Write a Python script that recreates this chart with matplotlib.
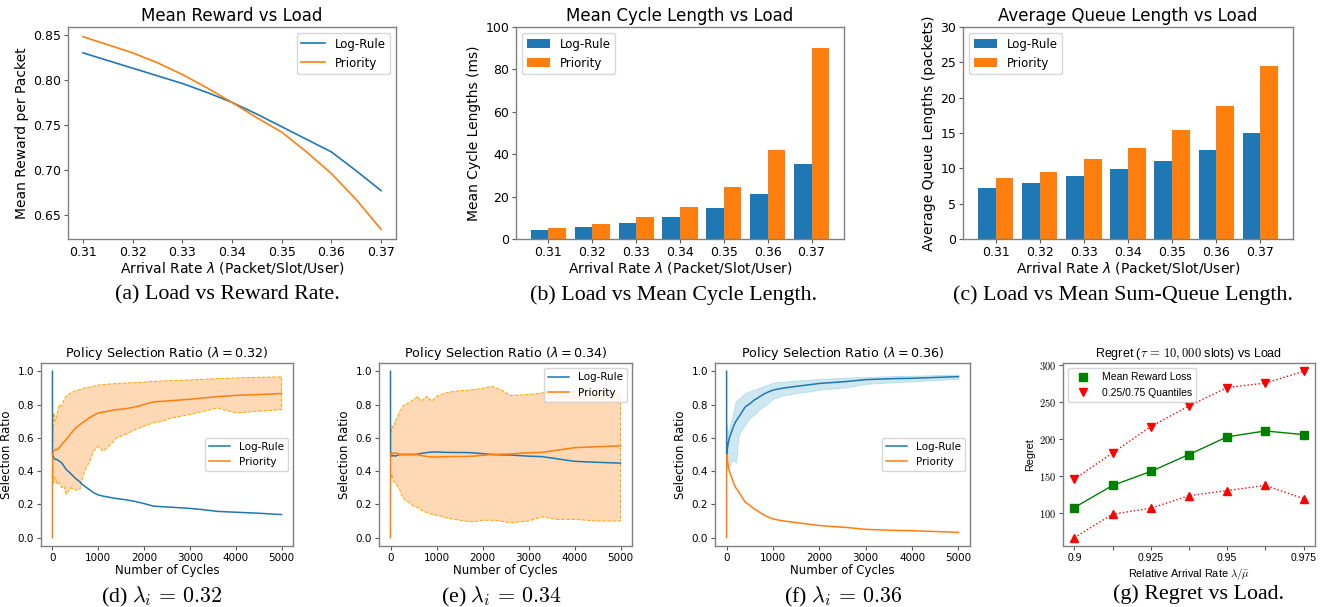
import matplotlib
matplotlib.use('Agg')
import matplotlib.pyplot as plt
from matplotlib.lines import Line2D

# ---------------- data ----------------
# (a) mean reward vs load
lam_a = [0.31, 0.315, 0.32, 0.325, 0.33, 0.335, 0.34, 0.345, 0.35, 0.355, 0.36, 0.365, 0.37]
reward_log = [0.830, 0.8215, 0.813, 0.8045, 0.796, 0.786, 0.775, 0.762, 0.748, 0.734, 0.720, 0.699, 0.677]
reward_prio = [0.848, 0.839, 0.830, 0.819, 0.806, 0.791, 0.775, 0.758, 0.742, 0.720, 0.696, 0.667, 0.634]

# (b)/(c) bar charts
load_labels = ['0.31', '0.32', '0.33', '0.34', '0.35', '0.36', '0.37']
cycle_log = [4.4, 5.7, 7.5, 10.2, 14.6, 21.2, 35.2]
cycle_prio = [5.3, 6.9, 10.4, 14.9, 24.6, 41.8, 90.0]
queue_log = [7.2, 7.95, 8.85, 9.95, 11.1, 12.6, 15.0]
queue_prio = [8.65, 9.5, 11.25, 12.9, 15.4, 18.8, 24.5]

# (d)-(f) policy selection ratio
cycles = [0, 1, 30, 60, 100, 150, 200, 250, 300, 400, 500, 600, 650, 700, 800, 900, 1000,
          1100, 1200, 1400, 1600, 1800, 2000, 2200, 2400, 2600, 3000, 3300, 3600, 4000, 4500, 5000]

d_log = [1.0, 0.5, 0.48, 0.47, 0.47, 0.46, 0.45, 0.43, 0.41, 0.385, 0.357, 0.335, 0.32, 0.31, 0.29, 0.27,
         0.257, 0.25, 0.245, 0.235, 0.228, 0.218, 0.205, 0.19, 0.186, 0.183, 0.176, 0.168, 0.158, 0.153, 0.147, 0.139]
d_prio = [0.0, 0.5, 0.52, 0.53, 0.53, 0.54, 0.56, 0.575, 0.59, 0.625, 0.657, 0.68, 0.69, 0.70, 0.72, 0.735,
          0.75, 0.755, 0.76, 0.77, 0.775, 0.786, 0.80, 0.816, 0.82, 0.824, 0.832, 0.84, 0.848, 0.855, 0.86, 0.867]
d_hi = [0.5, 0.5, 0.75, 0.70, 0.74, 0.80, 0.79, 0.83, 0.85, 0.87, 0.883, 0.89, 0.895, 0.90, 0.905, 0.91,
        0.917, 0.92, 0.923, 0.926, 0.93, 0.932, 0.935, 0.94, 0.942, 0.944, 0.948, 0.952, 0.956, 0.96, 0.964, 0.967]
d_lo = [0.5, 0.5, 0.33, 0.36, 0.32, 0.33, 0.30, 0.31, 0.26, 0.30, 0.287, 0.29, 0.35, 0.40, 0.45, 0.52,
        0.55, 0.52, 0.54, 0.60, 0.62, 0.65, 0.67, 0.69, 0.70, 0.72, 0.74, 0.76, 0.78, 0.75, 0.76, 0.77]

e_log = [1.0, 0.5, 0.49, 0.495, 0.49, 0.495, 0.5, 0.5, 0.5, 0.5, 0.5, 0.502, 0.505, 0.508, 0.512, 0.515,
         0.515, 0.514, 0.513, 0.512, 0.512, 0.51, 0.505, 0.5, 0.498, 0.497, 0.49, 0.487, 0.475, 0.459, 0.453, 0.448]
e_prio = [0.0, 0.5, 0.51, 0.505, 0.51, 0.505, 0.5, 0.5, 0.5, 0.5, 0.5, 0.498, 0.495, 0.492, 0.488, 0.485,
          0.485, 0.486, 0.487, 0.488, 0.488, 0.49, 0.495, 0.5, 0.502, 0.503, 0.51, 0.513, 0.525, 0.541, 0.547, 0.552]
e_hi = [0.5, 0.62, 0.67, 0.66, 0.70, 0.72, 0.76, 0.78, 0.80, 0.81, 0.83, 0.85, 0.82, 0.83, 0.85, 0.82,
        0.85, 0.86, 0.87, 0.88, 0.885, 0.89, 0.897, 0.91, 0.89, 0.855, 0.86, 0.87, 0.875, 0.88, 0.885, 0.86]
e_lo = [0.5, 0.35, 0.38, 0.34, 0.33, 0.31, 0.29, 0.25, 0.23, 0.21, 0.19, 0.18, 0.17, 0.16, 0.15, 0.14,
        0.135, 0.13, 0.12, 0.11, 0.10, 0.095, 0.105, 0.105, 0.10, 0.09, 0.10, 0.125, 0.11, 0.11, 0.10, 0.10]

f_log = [1.0, 0.5, 0.56, 0.6, 0.63, 0.67, 0.70, 0.72, 0.741, 0.786, 0.805, 0.828, 0.836, 0.845, 0.863, 0.876,
         0.887, 0.893, 0.898, 0.906, 0.913, 0.92, 0.927, 0.931, 0.935, 0.939, 0.95, 0.953, 0.956, 0.958, 0.963, 0.968]
f_prio = [0.0, 0.5, 0.44, 0.4, 0.37, 0.33, 0.30, 0.28, 0.259, 0.214, 0.195, 0.172, 0.164, 0.155, 0.137, 0.124,
          0.113, 0.107, 0.102, 0.094, 0.087, 0.08, 0.073, 0.069, 0.065, 0.061, 0.05, 0.047, 0.044, 0.042, 0.037, 0.032]
f_hi = [0.5, 0.68, 0.62, 0.66, 0.70, 0.76, 0.82, 0.83, 0.842, 0.869, 0.88, 0.89, 0.893, 0.90, 0.91, 0.92,
        0.93, 0.935, 0.937, 0.942, 0.946, 0.95, 0.953, 0.956, 0.959, 0.962, 0.965, 0.968, 0.971, 0.973, 0.977, 0.98]
f_lo = [0.5, 0.40, 0.45, 0.43, 0.46, 0.47, 0.45, 0.60, 0.64, 0.68, 0.72, 0.74, 0.755, 0.77, 0.79, 0.81,
        0.835, 0.845, 0.855, 0.865, 0.873, 0.88, 0.89, 0.895, 0.90, 0.905, 0.925, 0.93, 0.935, 0.94, 0.948, 0.955]

# (g) regret vs load
rel_rate = [0.9, 0.9125, 0.925, 0.9375, 0.95, 0.9625, 0.975]
rel_labels = ['0.9', '', '0.925', '', '0.95', '', '0.975']
regret_mean = [107, 137, 156, 179, 203, 211, 206]
regret_q75 = [146, 181, 217, 245, 270, 276, 292]
regret_q25 = [66, 98, 106, 123, 130, 137, 119]

# ---------------- figure ----------------
W, H = 1320, 607
fig = plt.figure(figsize=(W / 100, H / 100), dpi=100)


def axpx(l, t, r, b):
    return fig.add_axes([l / W, 1 - b / H, (r - l) / W, (b - t) / H])


def style(ax, tick_fs):
    for s in ax.spines.values():
        s.set_color('0.5')
        s.set_linewidth(1.0)
    ax.tick_params(labelsize=tick_fs, length=3, width=0.8, color='0.35', pad=2)


TOP_T, TOP_L, TOP_K, TOP_G = 12, 10, 9, 8.5

# (a)
ax = axpx(68, 27, 396, 239)
ax.plot(lam_a, reward_log, color='C0', lw=1.2, label='Log-Rule')
ax.plot(lam_a, reward_prio, color='C1', lw=1.2, label='Priority')
ax.set_xticks([0.31, 0.32, 0.33, 0.34, 0.35, 0.36, 0.37])
ax.set_yticks([0.65, 0.70, 0.75, 0.80, 0.85])
ax.set_title('Mean Reward vs Load', fontsize=TOP_T, pad=4)
ax.set_xlabel(r'Arrival Rate $\lambda$ (Packet/Slot/User)', fontsize=TOP_L, labelpad=1)
ax.set_ylabel('Mean Reward per Packet', fontsize=TOP_L, labelpad=3)
ax.legend(loc='upper right', fontsize=TOP_G)
style(ax, TOP_K)


def bars(ax, a, b, title, ylabel, yticks):
    xs = range(len(load_labels))
    ax.bar([x - 0.2 for x in xs], a, width=0.4, color='C0', label='Log-Rule')
    ax.bar([x + 0.2 for x in xs], b, width=0.4, color='C1', label='Priority')
    ax.set_xticks(list(xs))
    ax.set_xticklabels(load_labels)
    ax.set_yticks(yticks)
    ax.set_ylim(yticks[0], yticks[-1])
    ax.set_title(title, fontsize=TOP_T, pad=4)
    ax.set_xlabel(r'Arrival Rate $\lambda$ (Packet/Slot/User)', fontsize=TOP_L, labelpad=1)
    ax.set_ylabel(ylabel, fontsize=TOP_L, labelpad=3)
    ax.legend(loc='upper left', fontsize=TOP_G)
    style(ax, TOP_K)


bars(axpx(516, 27, 844, 239), cycle_log, cycle_prio, 'Mean Cycle Length vs Load',
     'Mean Cycle Lengths (ms)', [0, 20, 40, 60, 80, 100])
bars(axpx(963, 27, 1293, 239), queue_log, queue_prio, 'Average Queue Length vs Load',
     'Average Queue Lengths (packets)', [0, 5, 10, 15, 20, 25, 30])

BOT_T, BOT_L, BOT_K, BOT_G = 9.2, 8.5, 7.5, 7.5


def ratio(ax, lam, log, prio, lo, hi, band, legloc):
    if band == 'prio':
        ax.fill_between(cycles, lo, hi, facecolor=(1.0, 0.5, 0.05, 0.3), edgecolor='orange',
                        linestyle='--', linewidth=0.7)
    else:
        ax.fill_between(cycles, lo, hi, facecolor=(0.68, 0.85, 0.9, 0.6), edgecolor=(0.68, 0.85, 0.9, 0.8),
                        linewidth=0.7)
    ax.plot(cycles, log, color='C0', lw=1.1, label='Log-Rule')
    ax.plot(cycles, prio, color='C1', lw=1.1, label='Priority')
    ax.set_xticks([0, 1000, 2000, 3000, 4000, 5000])
    ax.set_yticks([0.0, 0.2, 0.4, 0.6, 0.8, 1.0])
    ax.set_title(r'Policy Selection Ratio ($\lambda = %s$)' % lam, fontsize=BOT_T, pad=4)
    ax.set_xlabel('Number of Cycles', fontsize=BOT_L, labelpad=1)
    ax.set_ylabel('Selection Ratio', fontsize=BOT_L, labelpad=3)
    ax.legend(loc=legloc, fontsize=BOT_G)
    style(ax, BOT_K)


ratio(axpx(41, 363, 293, 546), '0.32', d_log, d_prio, d_lo, d_hi, 'prio', 'center right')
ratio(axpx(379, 363, 632, 546), '0.34', e_log, e_prio, e_lo, e_hi, 'prio', 'upper right')
ratio(axpx(715, 363, 970, 546), '0.36', f_log, f_prio, f_lo, f_hi, 'log', 'center right')

# (g)
SANS = 'Liberation Sans'
ax = axpx(1063, 363, 1315, 546)
ax.plot(rel_rate, regret_mean, color='g', marker='s', ms=6, lw=1.0)
ax.plot(rel_rate, regret_q75, color='r', marker='v', ms=6, lw=1.0, ls=':')
ax.plot(rel_rate, regret_q25, color='r', marker='^', ms=6, lw=1.0, ls=':')
ax.set_xticks(rel_rate)
ax.set_xticklabels(rel_labels, family=SANS)
ax.set_yticks([100, 150, 200, 250, 300])
ylabs = ax.set_yticklabels(['$%d$' % v for v in [100, 150, 200, 250, 300]])
for t in ylabs:
    t.set_math_fontfamily('cm')
ax.set_title(r'Regret ($\tau\,=\,10,000$ slots) vs Load', fontsize=9, family=SANS,
             math_fontfamily='cm', pad=4)
ax.set_xlabel(r'Relative Arrival Rate $\lambda/\bar{\mu}$', fontsize=7.8, family=SANS,
              math_fontfamily='cm', labelpad=2)
ax.set_ylabel('Regret', fontsize=7.8, family=SANS, labelpad=3)
handles = [Line2D([], [], color='g', marker='s', ls='none', ms=6),
           Line2D([], [], color='r', marker='v', ls='none', ms=6)]
ax.legend(handles, ['Mean Reward Loss', '0.25/0.75 Quantiles'], loc='upper left',
          prop={'family': SANS, 'size': 7.5})
style(ax, 7.5)

# captions
SERIF = 'Liberation Serif'
caps = [(227, 295, '(a) Load vs Reward Rate.'),
        (674, 295, '(b) Load vs Mean Cycle Length.'),
        (1123, 295, '(c) Load vs Mean Sum-Queue Length.'),
        (162, 597, r'(d) $\lambda_i\,=\,0.32$'),
        (501, 597, r'(e) $\lambda_i\,=\,0.34$'),
        (843, 597, r'(f) $\lambda_i\,=\,0.36$'),
        (1199, 594, '(g) Regret vs Load.')]
for x, y, s in caps:
    fig.text(x / W, 1 - y / H, s, ha='center', va='center', family=SERIF, fontsize=15.8,
             math_fontfamily='cm')

fig.savefig('out.png', dpi=100)
